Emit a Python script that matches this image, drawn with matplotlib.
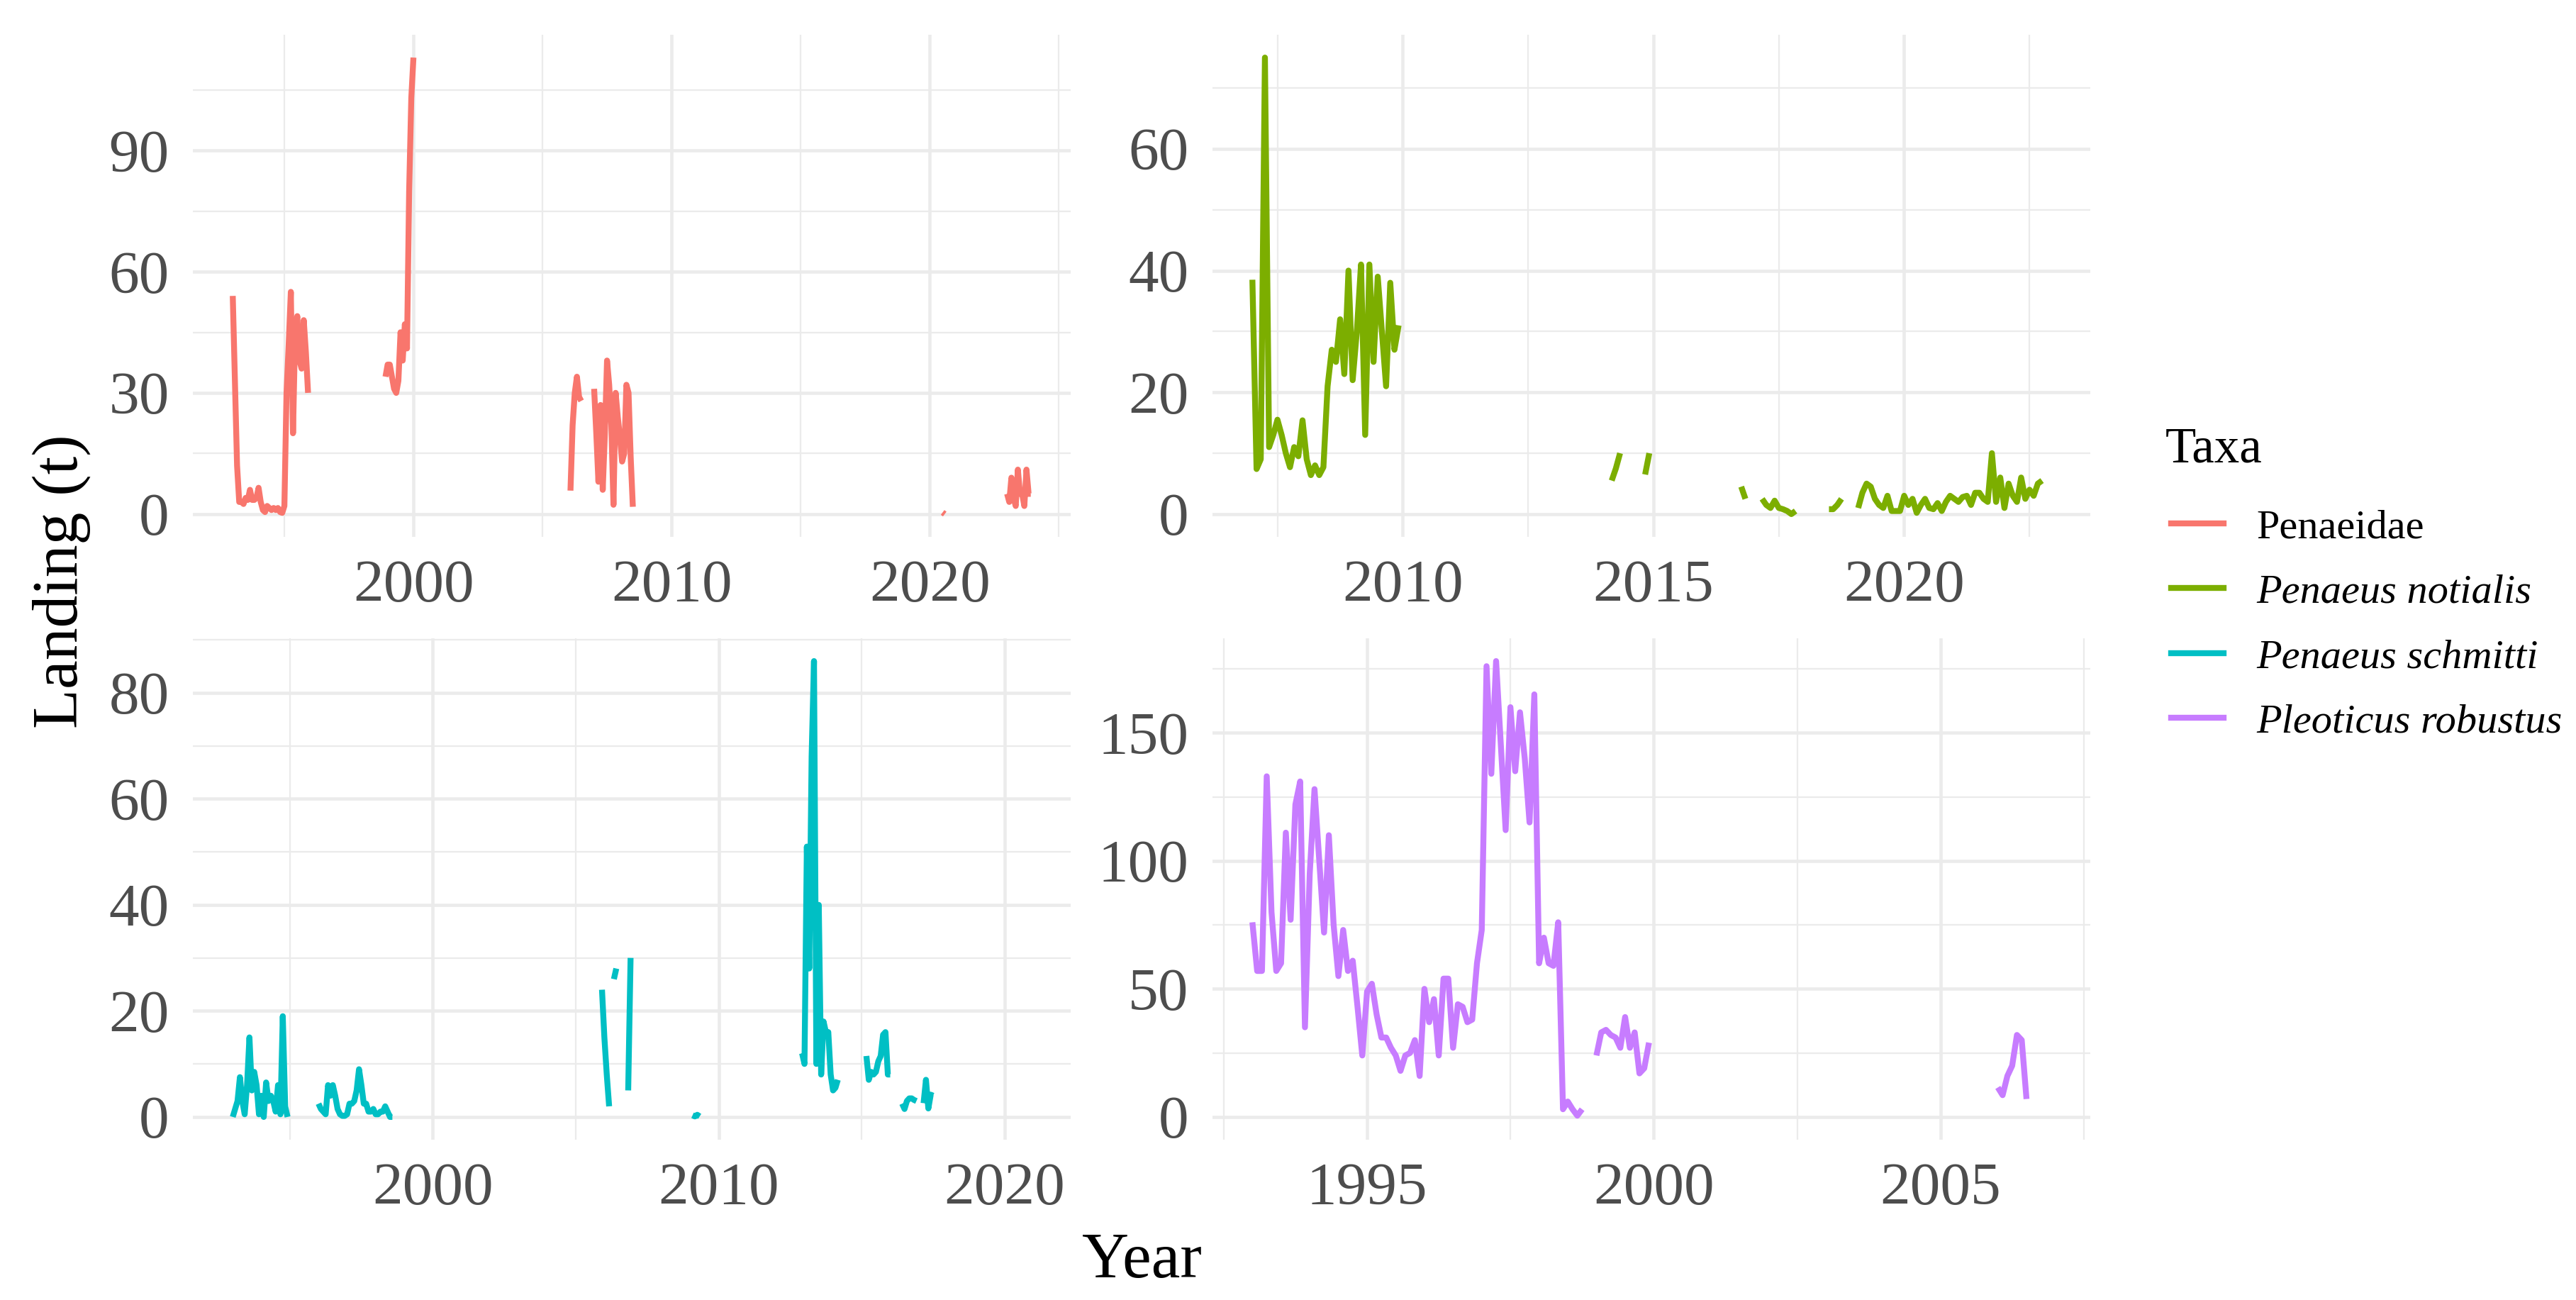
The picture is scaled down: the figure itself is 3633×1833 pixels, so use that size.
import matplotlib

matplotlib.use("Agg")
import matplotlib.pyplot as plt
import numpy as np
from matplotlib.lines import Line2D

plt.rcParams["font.family"] = ["Liberation Serif", "DejaVu Serif"]

# monthly landings (t); each segment = (first month, consecutive monthly values)
penaeidae_segments = [
    ("1993-01", [54, 33, 12, 3, 3, 2.5, 4, 3.5, 6, 3.5, 3.5, 4,
                 6.5, 3, 1, 0.5, 2, 1.5, 1, 1.5, 1, 1.5, 0.5, 0.3,
                 2, 30, 42, 55, 20, 45, 49, 38, 36, 48, 40, 30]),
    ("1998-12", [34, 37, 37, 34, 31, 30, 33, 45, 38, 47, 41, 80, 103, 113]),
    ("2006-02", [5.8, 22, 30, 34, 29, 28]),
    ("2007-01", [31, 20, 8, 27, 6, 20, 38, 32, 22, 2.3, 30, 24, 19, 13, 15, 32, 30, 14, 1.8]),
    ("2020-07", [0.4, 0]),
    ("2023-01", [5, 3, 9, 4, 2, 11, 5, 5, 2, 11, 5, 5]),
]
notialis_segments = [
    ("2007-01", [38.5, 7.4, 9, 75, 11, 13, 15.5, 13, 10, 7.7, 11, 9.5,
                 15.4, 9, 6.4, 8, 6.4, 7.7, 21, 27, 25, 32, 23, 40,
                 22, 30, 41, 13, 41, 25, 39, 30, 21, 38, 27, 31]),
    ("2014-03", [5.5, 7.5, 10]),
    ("2014-11", [6.5, 10]),
    ("2016-10", [4.5, 2.5]),
    ("2017-03", [2.5, 1.5, 1, 2.2, 1, 0.8, 0.5, 0, 0.5]),
    ("2018-07", [0.8, 0.8, 1.5, 2.5]),
    ("2019-02", [1, 3.5, 5, 4.5, 2.5, 1.5, 1, 3, 0.5, 0.5,
                 0.5, 3, 1.5, 2.5, 0.2, 1.5, 2.5, 1, 0.8, 1.8,
                 0.5, 2, 3, 2.5, 2, 2.8, 3, 1.5, 3.5, 3.5,
                 2.5, 2, 10, 2, 6, 1, 5, 3, 2, 6,
                 2.5, 4, 3, 5, 5.5]),
]
schmitti_segments = [
    ("1993-01", [0, 1.5, 3, 7.5, 3, 0.5, 6, 15, 5, 8.5, 6, 0.5,
                 4, 0, 6.5, 3, 4, 3, 1, 6, 0.5, 19, 2, 0]),
    ("1996-01", [2.5, 1.5, 1, 0.5, 6, 4, 6, 4, 1.5, 0.5,
                 0.2, 0.2, 0.5, 2.5, 2.5, 3, 5, 9, 6, 2.5,
                 2.5, 1, 1, 1.5, 0.5, 0.5, 1, 1, 2, 1, 0, 0]),
    ("2005-12", [24, 15, 8, 2]),
    ("2006-05", [26, 28]),
    ("2006-11", [5, 30]),
    ("2009-02", [0.3, 0.1, 0.4, 0.1]),
    ("2012-12", [12, 10, 51, 28, 68, 86, 10, 40, 8, 18, 16, 16, 8, 5, 5.5, 7]),
    ("2015-03", [11.5, 7, 8.5, 8, 8.5, 10.5, 11.5, 15.5, 16, 8, 8]),
    ("2016-06", [2.5, 1.5, 3, 3.5, 3.5, 3.2, 3]),
    ("2017-03", [2.6, 7, 1.6, 4.2, 4]),
]
robustus_segments = [
    ("1993-01", [76, 57, 57, 133, 80, 57, 60, 111, 77, 122, 131, 35,
                 95, 128, 100, 72, 110, 75, 55, 73, 57, 61, 43, 24,
                 49, 52, 40, 31, 31, 27, 24, 18, 24, 25, 30, 16,
                 50, 37, 46, 24, 54, 54, 27, 44, 43, 37, 38, 60,
                 73, 176, 134, 178, 145, 112, 160, 135, 158, 140, 115, 165,
                 60, 70, 60, 59, 76, 3, 6, 3, 0.5, 3]),
    ("1999-01", [24, 33, 34, 32, 31, 27, 39, 27, 33, 17, 19, 29]),
    ("2006-01", [11.5, 8.5, 16, 20, 32, 30, 7]),
]

taxa = ["Penaeidae", "Penaeus notialis", "Penaeus schmitti", "Pleoticus robustus"]
italic = [False, True, True, True]
colors = ["#F8766D", "#7CAE00", "#00BFC4", "#C77CFF"]
segments = [penaeidae_segments, notialis_segments, schmitti_segments, robustus_segments]
# full monthly record period of each taxon (rows with missing landings included)
periods = [("1993-01", "2023-12"), ("2007-01", "2022-12"),
           ("1993-01", "2020-12"), ("1993-01", "2006-12")]
y_major = [[0, 30, 60, 90], [0, 20, 40, 60], [0, 20, 40, 60, 80], [0, 50, 100, 150]]
x_major = [[2000, 2010, 2020], [2010, 2015, 2020], [2000, 2010, 2020], [1995, 2000, 2005]]


def decimal_year(ym):
    y, m = ym.split("-")
    return int(y) + (int(m) - 1) / 12


def expand(lo, hi, mult=0.05):
    pad = (hi - lo) * mult
    return lo - pad, hi + pad


W, H = 3633, 1833
fig = plt.figure(figsize=(W / 300, H / 300), dpi=300)

boxes = [(272, 49, 1510, 757), (1710, 49, 2948, 757),
         (272, 900, 1510, 1607), (1710, 900, 2948, 1607)]

grid_col = "#EBEBEB"
for i, (x0, y0, x1, y1) in enumerate(boxes):
    ax = fig.add_axes([x0 / W, 1 - y1 / H, (x1 - x0) / W, (y1 - y0) / H])
    ymax = 0
    for start, vals in segments[i]:
        x = decimal_year(start) + np.arange(len(vals)) / 12
        ax.plot(x, vals, color=colors[i], lw=2.0, solid_joinstyle="round",
                solid_capstyle="butt", zorder=3)
        ymax = max(ymax, max(vals))

    xm = x_major[i]
    ym = y_major[i]
    xstep = xm[1] - xm[0]
    ystep = ym[1] - ym[0]
    ax.set_xticks(xm)
    ax.set_yticks(ym)
    ax.set_xticks(np.arange(xm[0] - xstep / 2, xm[-1] + xstep, xstep), minor=True)
    ax.set_yticks(np.arange(ym[0] + ystep / 2, ym[-1] + ystep, ystep), minor=True)
    ax.set_xlim(*expand(decimal_year(periods[i][0]), decimal_year(periods[i][1])))
    ax.set_ylim(*expand(0, ymax))
    ax.set_xticklabels([str(v) for v in xm])
    ax.set_yticklabels([str(v) for v in ym])

    ax.grid(which="major", color=grid_col, lw=1.1, zorder=0)
    ax.grid(which="minor", color=grid_col, lw=0.55, zorder=0)
    ax.set_axisbelow(True)
    for s in ax.spines.values():
        s.set_visible(False)
    ax.tick_params(which="both", length=0)
    ax.tick_params(axis="x", labelsize=20.5, labelcolor="#4D4D4D", pad=7.7)
    ax.tick_params(axis="y", labelsize=20.5, labelcolor="#4D4D4D", pad=8)

fig.text(87 / W, 1 - 820 / H, "Landing (t)", rotation=90, ha="center", va="center", fontsize=22)
fig.text(1610 / W, 1 - 1779 / H, "Year", ha="center", va="center", fontsize=22)

fig.text(3054 / W, 1 - 652 / H, "Taxa", ha="left", va="baseline", fontsize=17)
handles = [Line2D([], [], color=c, lw=2.0) for c in colors]
leg = fig.legend(handles, taxa, loc="center left", bbox_to_anchor=(3062 / W, 1 - 881 / H),
                 frameon=False, fontsize=14, handlelength=1.27, handletextpad=0.8,
                 labelspacing=0.66, borderpad=0, borderaxespad=0)
for t, it in zip(leg.get_texts(), italic):
    if it:
        t.set_style("italic")

fig.savefig("out.png", dpi=300)
